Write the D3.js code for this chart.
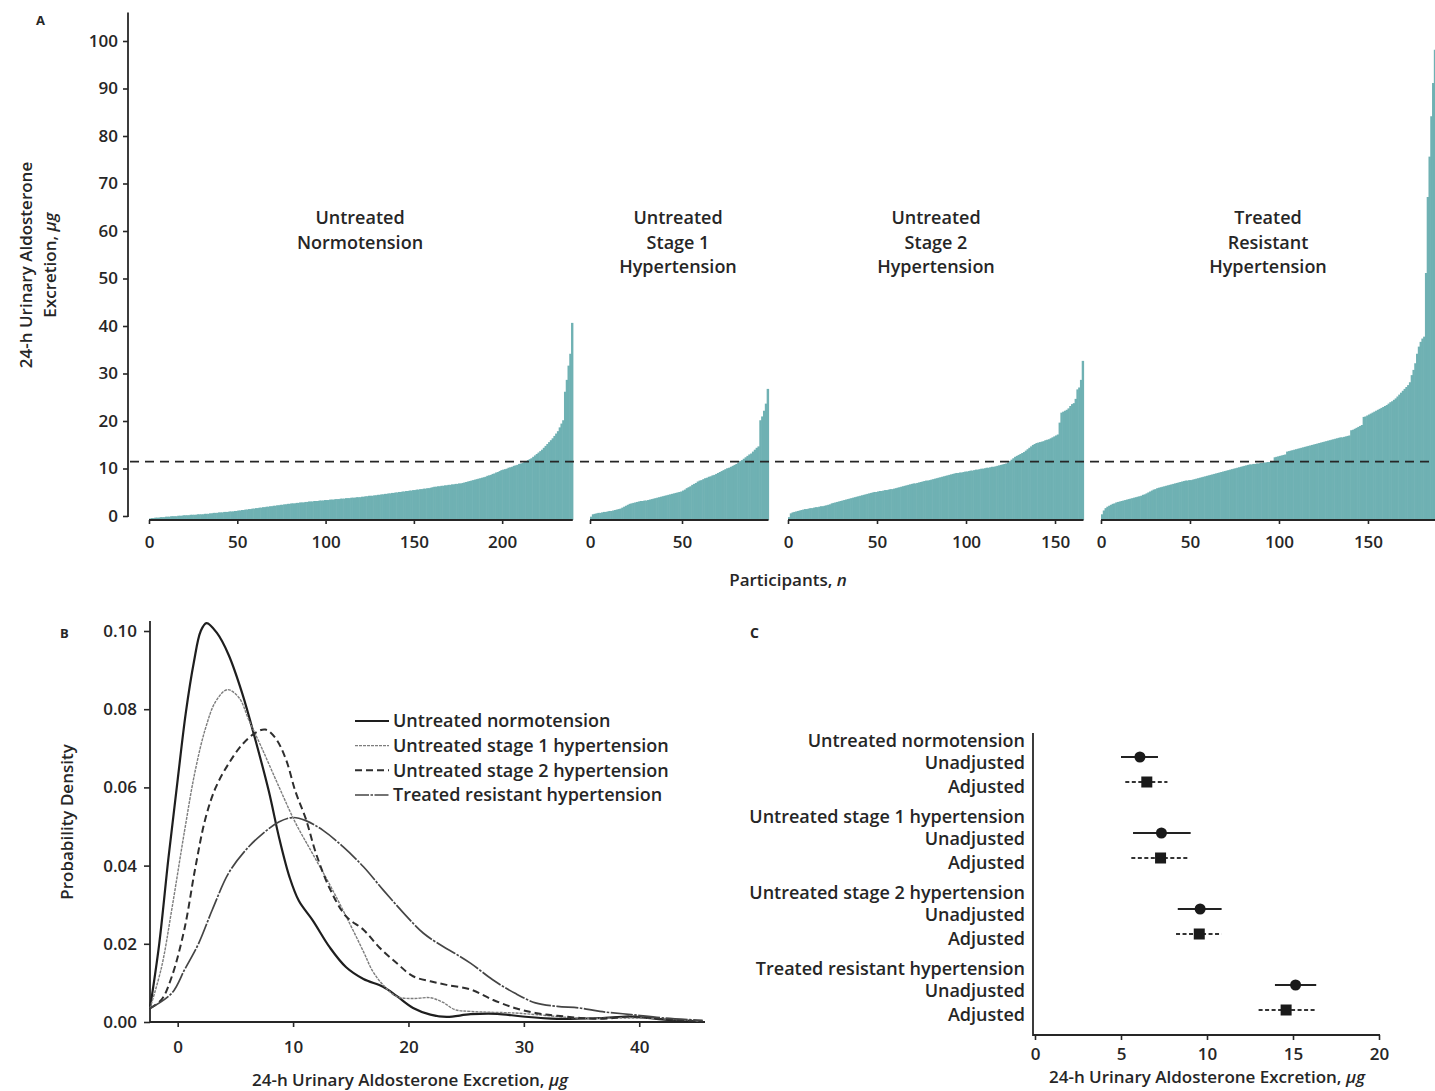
<!DOCTYPE html>
<html>
<head>
<meta charset="utf-8">
<script src="https://cdn.jsdelivr.net/npm/d3@7"></script>
<style>
  body { margin: 0; background: #fff; }
  svg { display: block; font-family: "Open Sans", sans-serif; }
  .tick text { font-family: "Open Sans", sans-serif; }
</style>
</head>
<body>
<svg id="chart" width="1435" height="1091"></svg>
<script>
// ---------- Panel A: sorted 24-h urinary aldosterone per participant (µg) ----------
const normotension = [
  0.3,0.4,0.4,0.5,0.5,0.5,0.6,0.6,0.6,0.7,0.7,0.7,0.8,0.8,0.8,0.8,0.9,0.9,0.9,1.0,
  1.0,1.0,1.0,1.1,1.1,1.1,1.1,1.2,1.2,1.2,1.2,1.3,1.3,1.3,1.4,1.4,1.5,1.5,1.5,1.6,
  1.6,1.6,1.7,1.7,1.7,1.8,1.8,1.8,1.9,1.9,2.0,2.0,2.1,2.1,2.2,2.2,2.3,2.3,2.4,2.4,
  2.5,2.5,2.6,2.6,2.7,2.7,2.8,2.8,2.9,2.9,3.0,3.0,3.1,3.1,3.2,3.2,3.3,3.3,3.4,3.4,
  3.5,3.5,3.5,3.6,3.6,3.7,3.7,3.7,3.8,3.8,3.9,3.9,3.9,4.0,4.0,4.0,4.1,4.1,4.1,4.2,
  4.2,4.2,4.3,4.3,4.3,4.4,4.4,4.4,4.5,4.5,4.5,4.6,4.6,4.6,4.7,4.7,4.7,4.8,4.8,4.8,
  4.9,4.9,5.0,5.0,5.1,5.1,5.1,5.2,5.2,5.3,5.3,5.4,5.4,5.5,5.5,5.6,5.6,5.7,5.7,5.8,
  5.8,5.9,5.9,6.0,6.0,6.1,6.1,6.2,6.2,6.3,6.3,6.4,6.4,6.5,6.5,6.6,6.6,6.7,6.7,6.8,
  6.9,7.0,7.0,7.1,7.1,7.2,7.2,7.3,7.3,7.4,7.4,7.5,7.5,7.6,7.6,7.7,7.7,7.8,7.9,8.0,
  8.1,8.2,8.3,8.4,8.5,8.6,8.7,8.8,8.9,9.0,9.1,9.3,9.4,9.5,9.7,9.8,10.0,10.1,10.3,10.5,
  10.6,10.7,10.8,11.0,11.1,11.2,11.4,11.5,11.6,11.8,11.9,12.0,12.2,12.4,12.6,12.8,13.0,13.3,13.6,13.9,
  14.2,14.5,14.8,15.2,15.6,16.0,16.4,16.8,17.2,17.7,18.2,18.7,19.5,20.3,21.0,27.0,29.5,32.5,35.0,41.5
];
const stage1 = [
  0.7,1.2,1.3,1.4,1.5,1.5,1.6,1.7,1.7,1.8,1.9,1.9,2.0,2.1,2.2,2.3,2.4,2.6,2.8,3.0,
  3.2,3.4,3.5,3.6,3.7,3.8,3.9,4.0,4.0,4.1,4.1,4.2,4.3,4.4,4.5,4.6,4.7,4.8,4.9,5.0,
  5.1,5.2,5.3,5.4,5.5,5.6,5.7,5.8,5.9,6.0,6.2,6.4,6.7,6.9,7.1,7.4,7.6,7.8,8.1,8.3,
  8.4,8.6,8.8,8.9,9.1,9.2,9.4,9.5,9.7,9.9,10.1,10.3,10.5,10.7,10.9,11.0,11.2,11.4,11.6,11.8,
  12.1,12.4,12.6,12.9,13.2,13.5,13.8,14.0,14.4,14.8,15.2,15.5,21.0,21.8,23.0,24.5,27.6
];
const stage2 = [
  0.6,1.4,1.6,1.7,1.8,1.9,2.0,2.1,2.2,2.3,2.3,2.4,2.5,2.5,2.6,2.7,2.7,2.8,2.9,2.9,
  3.0,3.1,3.2,3.3,3.5,3.6,3.7,3.8,3.9,4.0,4.1,4.2,4.3,4.4,4.5,4.6,4.7,4.8,4.9,5.0,
  5.1,5.2,5.3,5.4,5.5,5.6,5.7,5.8,5.9,5.9,6.0,6.1,6.1,6.2,6.3,6.3,6.4,6.5,6.5,6.6,
  6.7,6.8,6.9,7.0,7.1,7.2,7.3,7.4,7.5,7.6,7.7,7.7,7.8,7.9,8.0,8.1,8.2,8.3,8.3,8.4,
  8.5,8.6,8.7,8.8,8.9,9.0,9.1,9.2,9.3,9.4,9.5,9.6,9.7,9.8,9.9,9.9,10.0,10.0,10.1,10.2,
  10.2,10.3,10.4,10.4,10.5,10.6,10.6,10.7,10.8,10.8,10.9,11.0,11.0,11.1,11.2,11.2,11.3,11.4,11.5,11.6,
  11.7,11.8,11.9,12.1,12.4,12.7,13.0,13.3,13.5,13.7,13.9,14.1,14.3,14.6,14.9,15.2,15.5,15.8,16.0,16.2,
  16.3,16.4,16.5,16.6,16.8,16.9,17.0,17.2,17.4,17.6,17.8,18.0,20.5,22.6,22.8,23.0,23.2,23.5,24.0,24.4,
  24.6,25.5,27.5,27.9,29.5,33.5
];
const resistant = [
  1.2,2.0,2.5,2.8,3.0,3.2,3.4,3.5,3.7,3.8,3.9,4.0,4.1,4.2,4.3,4.4,4.5,4.6,4.7,4.8,
  4.9,5.0,5.1,5.3,5.4,5.6,5.8,6.0,6.2,6.4,6.5,6.7,6.8,6.9,7.0,7.1,7.2,7.3,7.4,7.5,
  7.6,7.7,7.8,7.9,8.0,8.1,8.2,8.3,8.3,8.4,8.4,8.5,8.6,8.7,8.8,8.9,9.0,9.1,9.2,9.3,
  9.4,9.5,9.6,9.7,9.8,9.9,10.0,10.1,10.2,10.3,10.4,10.5,10.6,10.7,10.8,10.9,11.0,11.1,11.2,11.3,
  11.4,11.5,11.6,11.7,11.7,11.8,11.8,11.9,11.9,12.0,12.0,12.1,12.1,12.2,12.2,12.3,12.3,13.2,13.3,13.4,
  13.5,13.6,13.7,13.8,14.4,14.5,14.6,14.7,14.8,14.9,15.0,15.1,15.2,15.3,15.4,15.5,15.6,15.7,15.8,15.9,
  16.0,16.1,16.2,16.3,16.4,16.5,16.6,16.7,16.8,16.9,17.0,17.1,17.2,17.3,17.4,17.4,17.5,17.6,17.7,17.8,
  18.9,19.0,19.2,19.4,19.6,19.8,20.0,21.7,21.8,22.0,22.2,22.4,22.6,22.8,23.0,23.2,23.4,23.6,23.8,24.0,
  24.2,24.5,24.8,25.0,25.3,25.6,26.0,26.4,26.8,27.2,27.6,28.0,28.4,29.0,30.5,31.6,33.0,35.0,36.5,37.5,
  38.2,38.6,52.0,68.0,76.5,85.0,92.0,99.0
];
const groupTitles = [
  ["Untreated", "Normotension"],
  ["Untreated", "Stage 1", "Hypertension"],
  ["Untreated", "Stage 2", "Hypertension"],
  ["Treated", "Resistant", "Hypertension"]
];
const participantTicks = [[0, 50, 100, 150, 200], [0, 50], [0, 50, 100, 150], [0, 50, 100, 150]];
const excretionTicks = [0, 10, 20, 30, 40, 50, 60, 70, 80, 90, 100];
const referenceLevel = 12.3;

// ---------- Panel B: kernel density curves [µg, density] ----------
const densNormotension = [
  [-2.4,0.0035],[-1.6,0.020],[-0.8,0.042],[0,0.062],[0.7,0.079],[1.4,0.092],[2.0,0.100],[2.5,0.102],
  [3.4,0.0995],[4.4,0.094],[5.6,0.084],[6.75,0.072],[7.9,0.059],[8.8,0.047],[9.7,0.037],[10.5,0.031],
  [11.7,0.026],[13.2,0.019],[14.6,0.014],[16.1,0.011],[17.8,0.009],[19,0.0066],[20.4,0.0036],
  [21.9,0.0019],[23.3,0.0013],[25.4,0.002],[27.7,0.0021],[29.9,0.0014],[32.9,0.0008],[36.6,0.001],
  [39.3,0.0014],[42.2,0.0006],[45.5,0.0001]
];
const densStage1 = [
  [-2.4,0.0035],[-1.4,0.014],[-0.5,0.029],[0.6,0.049],[1.5,0.064],[2.4,0.075],[3.3,0.082],[4.3,0.085],
  [5.3,0.083],[6.2,0.077],[7.3,0.070],[8.8,0.060],[10.2,0.051],[11.7,0.043],[13.2,0.035],[14.6,0.027],
  [16.1,0.018],[16.9,0.013],[17.8,0.0095],[19,0.0065],[20.4,0.006],[21.9,0.0062],[23,0.005],[24,0.0032],
  [25.4,0.0027],[29.2,0.0023],[31,0.0019],[34.8,0.001],[40.4,0.001],[45.5,0.0002]
];
const densStage2 = [
  [-2.4,0.0035],[-1.4,0.0057],[-0.5,0.0117],[0.6,0.024],[1.5,0.039],[2.4,0.052],[3.3,0.060],[4.4,0.066],
  [5.6,0.071],[6.75,0.074],[7.6,0.0748],[8.5,0.0725],[9.4,0.067],[10.2,0.059],[11.1,0.052],[12,0.043],
  [13.2,0.034],[14.6,0.027],[16.1,0.0236],[17.5,0.019],[19,0.015],[20.4,0.0117],[21.9,0.0104],
  [23.3,0.0095],[25.4,0.0083],[27.3,0.0057],[29.2,0.0036],[31,0.0023],[32.9,0.0016],[36.6,0.0008],
  [39.3,0.0014],[42.2,0.0007],[45.5,0.0001]
];
const densResistant = [
  [-2.4,0.0035],[-0.5,0.0074],[0.6,0.0134],[1.8,0.020],[3,0.0287],[4.4,0.038],[5.9,0.044],[7.3,0.048],
  [8.8,0.0512],[10,0.0523],[11.1,0.0515],[12.6,0.049],[14.3,0.0449],[16.1,0.0397],[17.8,0.0338],
  [19.6,0.0278],[21.3,0.0227],[23,0.0193],[24,0.0176],[25.4,0.015],[27.3,0.0108],[29.2,0.0074],
  [31,0.0049],[32.9,0.004],[34.8,0.0036],[36.6,0.0027],[39.3,0.0019],[42.2,0.001],[45.5,0.0004]
];
const densityLegend = [
  "Untreated normotension",
  "Untreated stage 1 hypertension",
  "Untreated stage 2 hypertension",
  "Treated resistant hypertension"
];
const densityTicksX = [0, 10, 20, 30, 40];
const densityTicksY = [0, 0.02, 0.04, 0.06, 0.08, 0.10];

// ---------- Panel C: mean excretion with 95% CI (µg) ----------
const forestGroups = [
  "Untreated normotension",
  "Untreated stage 1 hypertension",
  "Untreated stage 2 hypertension",
  "Treated resistant hypertension"
];
const unadjustedMean = [6.1, 7.35, 9.6, 15.15];
const unadjustedLow  = [5.0, 5.7, 8.3, 13.95];
const unadjustedHigh = [7.15, 9.05, 10.85, 16.35];
const adjustedMean = [6.5, 7.3, 9.55, 14.6];
const adjustedLow  = [5.25, 5.6, 8.2, 13.0];
const adjustedHigh = [7.7, 8.95, 10.85, 16.35];
const forestTicks = [0, 5, 10, 15, 20];

// ================= drawing =================
const svg = d3.select("#chart");
const ink = "#262626";
const teal = "#6fb1b3";
const tickFont = 17;
const labelFont = 18;

function styleAxis(g) {
  g.selectAll("path.domain").remove();
  g.selectAll(".tick line").attr("stroke", ink).attr("stroke-width", 1.6);
  g.selectAll(".tick text").attr("fill", ink).attr("font-size", tickFont).attr("font-weight", 600);
}

// ----- Panel A -----
const yA = d3.scaleLinear().domain([0, 100]).range([520, 45]);
const gYA = svg.append("g").attr("transform", "translate(128,-4)")
  .call(d3.axisLeft(yA).tickValues(excretionTicks).tickSize(5).tickPadding(5).tickFormat(d3.format("d")));
styleAxis(gYA);
gYA.append("line").attr("x1", 0).attr("x2", 0).attr("y1", yA(106)).attr("y2", yA(0) + 1)
  .attr("stroke", ink).attr("stroke-width", 1.8);

svg.append("text").attr("x", 36).attr("y", 25).attr("font-size", 13).attr("font-weight", 700)
  .attr("fill", ink).text("A");

const yTitleA = svg.append("text").attr("transform", "translate(32,265) rotate(-90)")
  .attr("text-anchor", "middle").attr("font-size", 17).attr("font-weight", 600).attr("fill", ink);
yTitleA.append("tspan").attr("x", 0).attr("dy", 0).text("24-h Urinary Aldosterone");
const l2 = yTitleA.append("tspan").attr("x", 0).attr("dy", 24).text("Excretion, ");
l2.append("tspan").attr("font-style", "italic").text("µg");

const groups = [
  { values: normotension, range: [149, 572.8], center: 360 },
  { values: stage1, range: [590, 768.5], center: 678 },
  { values: stage2, range: [788, 1083.5], center: 936 },
  { values: resistant, range: [1101, 1435.6], center: 1268 }
];

groups.forEach((grp, gi) => {
  const n = grp.values.length;
  const x = d3.scaleLinear().domain([0, n]).range(grp.range);
  const g = svg.append("g");
  g.selectAll("rect").data(grp.values).join("rect")
    .attr("x", (d, i) => x(i))
    .attr("width", (d, i) => x(i + 1) - x(i) + 0.6)
    .attr("y", d => yA(d))
    .attr("height", d => yA(0) - yA(d))
    .attr("fill", teal);
  const ax = svg.append("g").attr("transform", `translate(0,${yA(0)})`)
    .call(d3.axisBottom(x).tickValues(participantTicks[gi]).tickSize(4).tickPadding(12).tickFormat(d3.format("d")));
  styleAxis(ax);
  ax.append("line").attr("x1", x(0)).attr("x2", x(n)).attr("stroke", ink).attr("stroke-width", 2);
  const t = svg.append("text").attr("text-anchor", "middle").attr("font-size", labelFont)
    .attr("font-weight", 600).attr("fill", ink);
  groupTitles[gi].forEach((line, li) => {
    t.append("tspan").attr("x", grp.center).attr("y", 224 + li * 24.5).text(line);
  });
});

svg.append("line").attr("x1", 130).attr("x2", 1435)
  .attr("y1", yA(referenceLevel)).attr("y2", yA(referenceLevel))
  .attr("stroke", ink).attr("stroke-width", 1.8).attr("stroke-dasharray", "9,6");

const xTitleA = svg.append("text").attr("x", 788).attr("y", 586).attr("text-anchor", "middle")
  .attr("font-size", 17).attr("font-weight", 600).attr("fill", ink).text("Participants, ");
xTitleA.append("tspan").attr("font-style", "italic").text("n");

// ----- Panel B -----
const xB = d3.scaleLinear().domain([-2.4, 45.7]).range([150, 705]);
const yB = d3.scaleLinear().domain([0, 0.10]).range([1022, 631]);

svg.append("text").attr("x", 60).attr("y", 638).attr("font-size", 13).attr("font-weight", 700)
  .attr("fill", ink).text("B");

const gYB = svg.append("g").attr("transform", "translate(150,0)")
  .call(d3.axisLeft(yB).tickValues(densityTicksY).tickSize(6).tickPadding(7).tickFormat(d3.format(".2f")));
styleAxis(gYB);
gYB.append("line").attr("y1", 621).attr("y2", 1023).attr("stroke", ink).attr("stroke-width", 1.8);

const gXB = svg.append("g").attr("transform", "translate(0,1022)")
  .call(d3.axisBottom(xB).tickValues(densityTicksX).tickSize(5).tickPadding(14).tickFormat(d3.format("d")));
styleAxis(gXB);
gXB.append("line").attr("x1", 150).attr("x2", 705).attr("stroke", ink).attr("stroke-width", 1.8);

svg.append("text").attr("transform", "translate(73,822) rotate(-90)").attr("text-anchor", "middle")
  .attr("font-size", 17).attr("font-weight", 600).attr("fill", ink).text("Probability Density");

const xTitleB = svg.append("text").attr("x", 410).attr("y", 1086).attr("text-anchor", "middle")
  .attr("font-size", 17).attr("font-weight", 600).attr("fill", ink)
  .text("24-h Urinary Aldosterone Excretion, ");
xTitleB.append("tspan").attr("font-style", "italic").text("µg");

const densityStyles = [
  { data: densNormotension, stroke: "#1e1e1e", width: 2.2, dash: null },
  { data: densStage1, stroke: "#7d7d7d", width: 1.4, dash: "3,1" },
  { data: densStage2, stroke: "#2e2e2e", width: 2.0, dash: "7,4" },
  { data: densResistant, stroke: "#454545", width: 1.7, dash: "22,1.5,2.5,1.5" }
];
const line = d3.line().x(d => xB(d[0])).y(d => yB(d[1])).curve(d3.curveCatmullRom.alpha(0.5));
densityStyles.forEach(s => {
  svg.append("path").attr("d", line(s.data)).attr("fill", "none")
    .attr("stroke", s.stroke).attr("stroke-width", s.width)
    .attr("stroke-dasharray", s.dash);
});

const legendY = d3.scalePoint().domain(densityLegend).range([721, 795]);
densityLegend.forEach((label, i) => {
  const s = densityStyles[i];
  svg.append("line").attr("x1", 355).attr("x2", 389)
    .attr("y1", legendY(label)).attr("y2", legendY(label))
    .attr("stroke", s.stroke).attr("stroke-width", s.width)
    .attr("stroke-dasharray", i === 3 ? "14,1.5,2.5,1.5" : s.dash);
  svg.append("text").attr("x", 393).attr("y", legendY(label)).attr("dy", "0.35em")
    .attr("font-size", labelFont).attr("font-weight", 600).attr("fill", ink).text(label);
});

// ----- Panel C -----
const xC = d3.scaleLinear().domain([0, 20]).range([1035, 1379]);
const yC = d3.scaleLinear().domain([0, 3]).range([741, 969]);

svg.append("text").attr("x", 750).attr("y", 638).attr("font-size", 14).attr("font-weight", 700)
  .attr("fill", ink).text("C");

svg.append("line").attr("x1", 1033).attr("x2", 1033).attr("y1", 733).attr("y2", 1036)
  .attr("stroke", ink).attr("stroke-width", 1.8);
const gXC = svg.append("g").attr("transform", "translate(0,1035)")
  .call(d3.axisBottom(xC).tickValues(forestTicks).tickSize(5).tickPadding(8).tickFormat(d3.format("d")));
styleAxis(gXC);
gXC.append("line").attr("x1", 1033).attr("x2", 1380).attr("stroke", ink).attr("stroke-width", 1.8);

const xTitleC = svg.append("text").attr("x", 1207).attr("y", 1083).attr("text-anchor", "middle")
  .attr("font-size", 17).attr("font-weight", 600).attr("fill", ink)
  .text("24-h Urinary Aldosterone Excretion, ");
xTitleC.append("tspan").attr("font-style", "italic").text("µg");

forestGroups.forEach((name, gi) => {
  const y0 = yC(gi);
  const labels = [[name, 0], ["Unadjusted", 22], ["Adjusted", 46]];
  labels.forEach(([txt, off]) => {
    svg.append("text").attr("x", 1025).attr("y", y0 + off).attr("dy", "0.35em")
      .attr("text-anchor", "end").attr("font-size", labelFont).attr("font-weight", 600)
      .attr("fill", ink).text(txt);
  });
  const yu = y0 + 16, ya = y0 + 41;
  svg.append("line").attr("x1", xC(unadjustedLow[gi])).attr("x2", xC(unadjustedHigh[gi]))
    .attr("y1", yu).attr("y2", yu).attr("stroke", "#222").attr("stroke-width", 2.2);
  svg.append("circle").attr("cx", xC(unadjustedMean[gi])).attr("cy", yu).attr("r", 5.5).attr("fill", "#1a1a1a");
  svg.append("line").attr("x1", xC(adjustedLow[gi])).attr("x2", xC(adjustedHigh[gi]))
    .attr("y1", ya).attr("y2", ya).attr("stroke", "#333").attr("stroke-width", 2.2)
    .attr("stroke-dasharray", "4,2.5");
  svg.append("rect").attr("x", xC(adjustedMean[gi]) - 5.5).attr("y", ya - 5.5)
    .attr("width", 11).attr("height", 11).attr("fill", "#1a1a1a");
});
</script>
</body>
</html>
